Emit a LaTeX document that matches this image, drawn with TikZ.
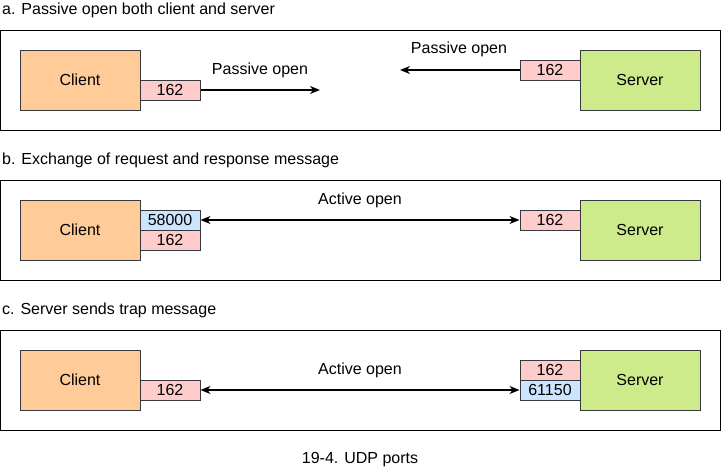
\documentclass[tikz,border=0pt]{standalone}
\usepackage{fontspec}
\setmainfont{Liberation Sans}
\usetikzlibrary{arrows.meta}
\definecolor{clientfill}{HTML}{FFCC99}
\definecolor{serverfill}{HTML}{CDEB8B}
\definecolor{pinkfill}{HTML}{FFCCCC}
\definecolor{bluefill}{HTML}{CCE5FF}
\definecolor{boxline}{HTML}{36393D}
\tikzset{
  txt/.style={font=\fontsize{16}{19}\selectfont, inner sep=0pt},
  host/.style={txt, draw=boxline, line width=1pt, minimum width=120pt, minimum height=60pt},
  clientbox/.style={host, fill=clientfill},
  serverbox/.style={host, fill=serverfill},
  port/.style={txt, draw=boxline, line width=1pt, minimum width=60pt, minimum height=20pt},
  pinkport/.style={port, fill=pinkfill},
  blueport/.style={port, fill=bluefill},
  panel/.style={draw=black, line width=1pt},
  conn/.style={line width=1.5pt, -{Stealth[length=10pt,width=8pt,inset=3pt]}},
  biconn/.style={line width=1.5pt, {Stealth[length=10pt,width=8pt,inset=3pt]}-{Stealth[length=10pt,width=8pt,inset=3pt]}},
  title/.style={txt, anchor=west},
}
\begin{document}
\begin{tikzpicture}[x=1pt,y=-1pt]
\useasboundingbox (0,0) rectangle (721,471);
% panel a
\node[title] (ta) at (2,10) {a. Passive open both client and server};
\draw[panel] (0.5,30) rectangle (720,130);
\node[clientbox] (ca) at (80,80) {Client};
\node[pinkport] (cpa) at (170,90) {162};
\coordinate (ea) at (320,90);
\draw[conn] (cpa.east) -- (ea);
\node[txt] (la) at (260,70) {Passive open};
\node[serverbox] (sa) at (640,80) {Server};
\node[pinkport] (spa) at (550,70) {162};
\coordinate (esa) at (400,70);
\draw[conn] (spa.west) -- (esa);
\node[txt] (lsa) at (459,49) {Passive open};
% panel b
\node[title] (tb) at (2,160) {b. Exchange of request and response message};
\draw[panel] (0.5,180) rectangle (720,280);
\node[clientbox] (cb) at (80,230) {Client};
\node[blueport] (cpb1) at (170,220) {58000};
\node[pinkport] (cpb2) at (170,240) {162};
\node[serverbox] (sb) at (640,230) {Server};
\node[pinkport] (spb) at (550,220) {162};
\draw[biconn] (cpb1.east) -- (spb.west);
\node[txt] (lb) at (360,200) {Active open};
% panel c
\node[title] (tc) at (2,310) {c. Server sends trap message};
\draw[panel] (0.5,330) rectangle (720,430);
\node[clientbox] (cc) at (80,380) {Client};
\node[pinkport] (cpc) at (170,390) {162};
\node[serverbox] (sc) at (640,380) {Server};
\node[pinkport] (spc1) at (550,370) {162};
\node[blueport] (spc2) at (550,390) {61150};
\draw[biconn] (cpc.east) -- (spc2.west);
\node[txt] (lc) at (360,370) {Active open};
% caption
\node[txt] (cap) at (360,460) {19-4. UDP ports};
\end{tikzpicture}
\end{document}
